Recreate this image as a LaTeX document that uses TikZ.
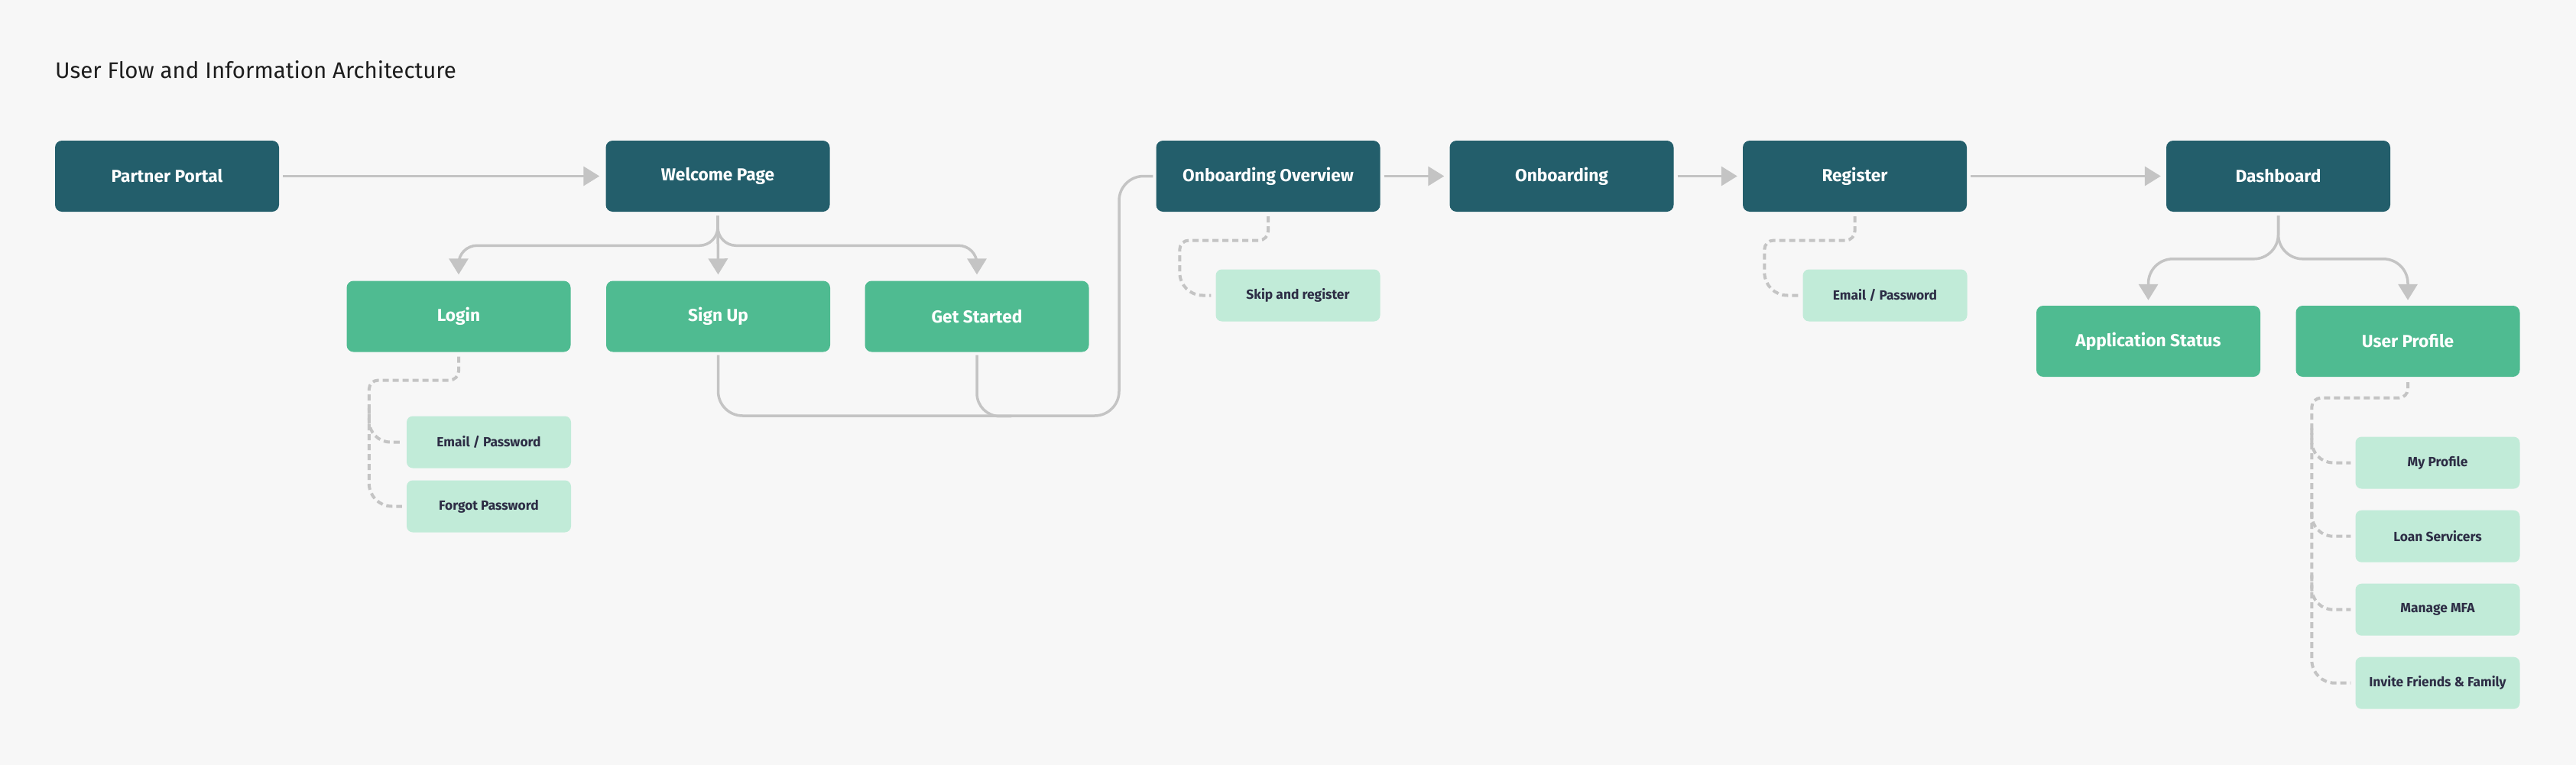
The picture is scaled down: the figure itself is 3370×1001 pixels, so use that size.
\documentclass[tikz,border=0pt]{standalone}
\usepackage{fontspec}
\setmainfont{Fira Sans}
\usetikzlibrary{arrows.meta,calc}
\definecolor{bgc}{HTML}{F7F7F7}
\definecolor{darkc}{HTML}{235E6B}
\definecolor{greenc}{HTML}{4FBB91}
\definecolor{lightc}{HTML}{C1EBD8}
\definecolor{linec}{HTML}{C4C4C4}
\definecolor{navyc}{HTML}{2D2D45}
\definecolor{titlec}{HTML}{1E1E1E}
\tikzset{
  box/.style={rounded corners=9pt, minimum width=293pt, minimum height=93pt, inner sep=0pt,
    font=\fontsize{22.7}{27}\selectfont\bfseries, text=white},
  darkbox/.style={box, fill=darkc},
  greenbox/.style={box, fill=greenc},
  subbox/.style={rounded corners=8pt, minimum width=215pt, minimum height=68pt, inner sep=0pt,
    fill=lightc, text=navyc, font=\fontsize{17.4}{21}\selectfont\bfseries},
  link/.style={draw=linec, line width=3.5pt},
  flow/.style={link, -{Triangle[length=21pt,width=25pt]}},
  sublink/.style={draw=linec, line width=4pt, dash pattern=on 8pt off 5pt},
}
\begin{document}
\begin{tikzpicture}[x=1pt,y=-1pt]
\fill[bgc] (0,0) rectangle (3370,1001);
\useasboundingbox (0,0) rectangle (3370,1001);

\node[anchor=base west, inner sep=0pt, text=titlec, font=\fontsize{29.5}{34}\selectfont] (title) at (72,102) {User Flow and Information Architecture};

% main row
\node[darkbox] (pp) at (218.5,230.5) {Partner Portal};
\node[darkbox] (wp) at (939,230.5) {Welcome Page};
\node[darkbox] (oo) at (1659,230.5) {Onboarding Overview};
\node[darkbox] (ob) at (2043,230.5) {Onboarding};
\node[darkbox] (rg) at (2426.5,230.5) {Register};
\node[darkbox] (db) at (2980.5,230.5) {Dashboard};

% second row
\node[greenbox] (login) at (600,414) {Login};
\node[greenbox] (signup) at (939.5,414) {Sign Up};
\node[greenbox] (gs) at (1278,414) {Get Started};
\node[greenbox] (as) at (2810.5,446.5) {Application Status};
\node[greenbox] (up) at (3150,446.5) {User Profile};

% sub pages
\node[subbox] (ep1) at (639.5,578.5) {Email / Password};
\node[subbox] (fp) at (639.5,662.5) {Forgot Password};
\node[subbox] (skip) at (1698,386.5) {Skip and register};
\node[subbox] (ep2) at (2466,386.5) {Email / Password};
\node[subbox] (myp) at (3189,605.5) {My Profile};
\node[subbox] (loan) at (3189,701.7) {Loan Servicers};
\node[subbox] (mfa) at (3189,797.7) {Manage MFA};
\node[subbox] (inv) at (3189,893.7) {Invite Friends \& Family};

% horizontal flow
\draw[flow, shorten <=5pt, shorten >=8pt] (pp) -- (wp);
\draw[flow, shorten <=5pt, shorten >=7pt] (oo) -- (ob);
\draw[flow, shorten <=5pt, shorten >=7pt] (ob) -- (rg);
\draw[flow, shorten <=5pt, shorten >=7pt] (rg) -- (db);

% welcome branches
\draw[flow, rounded corners=24pt] ($(wp.south)+(0,5)$) |- ($(login.north)+(0,-46)$) -- ($(login.north)+(0,-8)$);
\draw[flow, rounded corners=24pt] ($(wp.south)+(0,5)$) |- ($(gs.north)+(0,-46)$) -- ($(gs.north)+(0,-8)$);
\draw[flow] ($(wp.south)+(0,5)$) -- ($(signup.north)+(0,-8)$);

% sign up / get started to onboarding overview
\coordinate (bus) at (1464,544);
\draw[link, rounded corners=32pt, shorten >=4pt] ($(signup.south)+(0,4)$) |- (bus) |- (oo.west);
\draw[link, rounded corners=30pt] ($(gs.south)+(0,4)$) |- ($(gs.south)+(45,84)$);

% dashboard branches
\draw[flow, rounded corners=32pt] ($(db.south)+(0,5)$) |- ($(as.north)+(0,-61)$) -- ($(as.north)+(0,-7)$);
\draw[flow, rounded corners=32pt] ($(db.south)+(0,5)$) |- ($(up.north)+(0,-61)$) -- ($(up.north)+(0,-7)$);

% dashed sub links
\draw[sublink] ($(login.south)+(0,6)$) [rounded corners=12pt] |- ($(fp.west)+(-49,-165)$) [rounded corners=30pt] |- ($(fp.west)+(-6,0)$);
\draw[sublink, rounded corners=28pt] ($(ep1.west)+(-49,-45)$) |- ($(ep1.west)+(-6,0)$);

\draw[sublink] ($(oo.south)+(0,6)$) [rounded corners=12pt] |- ($(skip.west)+(-47,-72)$) [rounded corners=30pt] |- ($(skip.west)+(-6,0)$);
\draw[sublink] ($(rg.south)+(0,6)$) [rounded corners=12pt] |- ($(ep2.west)+(-50,-72)$) [rounded corners=30pt] |- ($(ep2.west)+(-6,0)$);

\draw[sublink] ($(up.south)+(0,7)$) [rounded corners=12pt] |- ($(inv.west)+(-57,-373)$) [rounded corners=30pt] |- ($(inv.west)+(-6,0)$);
\draw[sublink, rounded corners=28pt] ($(myp.west)+(-57,-45)$) |- ($(myp.west)+(-6,0)$);
\draw[sublink, rounded corners=28pt] ($(loan.west)+(-57,-45)$) |- ($(loan.west)+(-6,0)$);
\draw[sublink, rounded corners=28pt] ($(mfa.west)+(-57,-45)$) |- ($(mfa.west)+(-6,0)$);
\end{tikzpicture}
\end{document}
